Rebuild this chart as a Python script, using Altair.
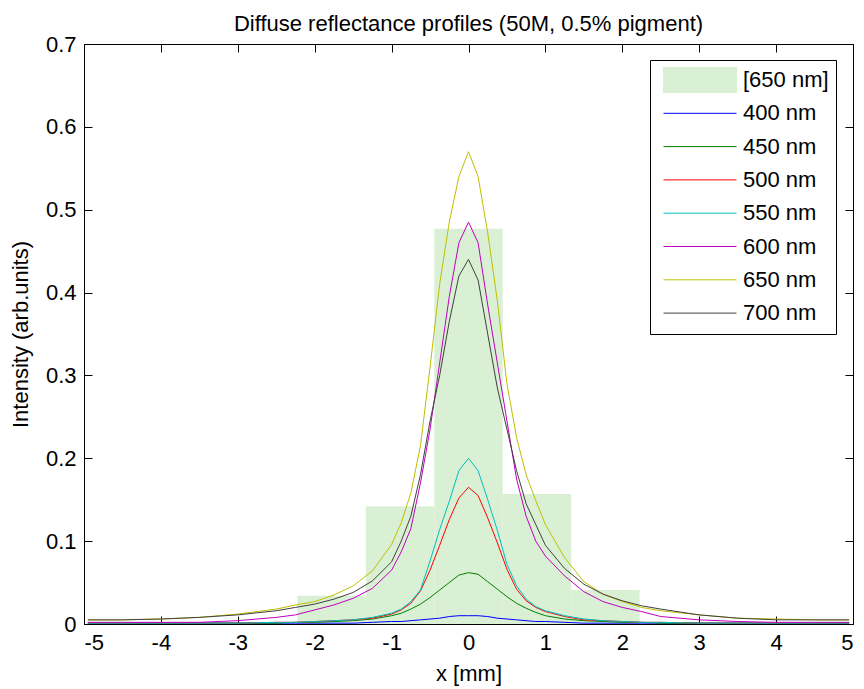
import altair as alt
import pandas as pd

# ---------------- data ----------------
x_mm = [-4.95, -4.5, -4, -3.5, -3, -2.5, -2.25, -2, -1.75, -1.5, -1.25, -1, -0.875, -0.75,
        -0.625, -0.5, -0.375, -0.25, -0.125, 0, 0.125, 0.25, 0.375, 0.5, 0.625, 0.75, 0.875,
        1, 1.25, 1.5, 1.75, 2, 2.25, 2.5, 3, 3.5, 4, 4.5, 4.95]

i400 = [0.001, 0.001, 0.001, 0.001, 0.001, 0.001, 0.001, 0.001, 0.001, 0.001, 0.002, 0.003, 0.003,
        0.004, 0.005, 0.006, 0.007, 0.009, 0.010, 0.010, 0.010, 0.009, 0.007, 0.006, 0.005, 0.004,
        0.003, 0.003, 0.002, 0.001, 0.001, 0.001, 0.001, 0.001, 0.001, 0.001, 0.001, 0.001, 0.001]
i450 = [0.001, 0.001, 0.001, 0.001, 0.001, 0.001, 0.002, 0.002, 0.003, 0.004, 0.006, 0.010, 0.013,
        0.018, 0.024, 0.032, 0.041, 0.050, 0.059, 0.062, 0.060, 0.051, 0.042, 0.033, 0.025, 0.019,
        0.014, 0.010, 0.006, 0.004, 0.003, 0.002, 0.002, 0.001, 0.001, 0.001, 0.001, 0.001, 0.001]
i500 = [0.001, 0.001, 0.001, 0.001, 0.001, 0.002, 0.002, 0.003, 0.004, 0.005, 0.007, 0.012, 0.017,
        0.025, 0.040, 0.065, 0.095, 0.126, 0.152, 0.165, 0.155, 0.128, 0.098, 0.066, 0.042, 0.028,
        0.020, 0.015, 0.009, 0.005, 0.004, 0.003, 0.002, 0.002, 0.001, 0.001, 0.001, 0.001, 0.001]
i550 = [0.001, 0.001, 0.001, 0.001, 0.001, 0.002, 0.002, 0.003, 0.004, 0.005, 0.008, 0.013, 0.018,
        0.027, 0.041, 0.076, 0.114, 0.148, 0.185, 0.200, 0.185, 0.150, 0.113, 0.072, 0.046, 0.030,
        0.021, 0.016, 0.010, 0.006, 0.004, 0.003, 0.002, 0.002, 0.001, 0.001, 0.001, 0.001, 0.001]
i600 = [0.002, 0.002, 0.002, 0.002, 0.004, 0.008, 0.011, 0.017, 0.023, 0.031, 0.043, 0.065, 0.087,
        0.115, 0.170, 0.235, 0.315, 0.395, 0.460, 0.485, 0.460, 0.385, 0.315, 0.245, 0.175, 0.130,
        0.100, 0.082, 0.058, 0.039, 0.027, 0.020, 0.015, 0.009, 0.005, 0.003, 0.002, 0.002, 0.002]
i650 = [0.005, 0.005, 0.006, 0.008, 0.012, 0.018, 0.023, 0.027, 0.035, 0.046, 0.064, 0.096, 0.122,
        0.158, 0.215, 0.310, 0.410, 0.485, 0.540, 0.570, 0.540, 0.472, 0.390, 0.290, 0.225, 0.180,
        0.149, 0.120, 0.080, 0.051, 0.036, 0.027, 0.020, 0.016, 0.011, 0.007, 0.006, 0.005, 0.005]
i700 = [0.005, 0.005, 0.006, 0.008, 0.011, 0.016, 0.020, 0.024, 0.030, 0.038, 0.052, 0.075, 0.100,
        0.130, 0.180, 0.245, 0.300, 0.365, 0.420, 0.440, 0.415, 0.350, 0.285, 0.235, 0.185, 0.145,
        0.120, 0.095, 0.067, 0.048, 0.036, 0.028, 0.022, 0.018, 0.011, 0.007, 0.005, 0.005, 0.005]

series_names = ["400 nm", "450 nm", "500 nm", "550 nm", "600 nm", "650 nm", "700 nm"]
series_values = [i400, i450, i500, i550, i600, i650, i700]
line_colors = ["#0000ff", "#008000", "#ff0000", "#00bfbf", "#bf00bf", "#bfbf00", "#404040"]

hist_name = "[650 nm]"
hist_color = "#daf0d5"
bin_left = [-2.225, -1.335, -0.445, 0.445, 1.335]
bin_right = [-1.335, -0.445, 0.445, 1.335, 2.225]
bin_height = [0.034, 0.142, 0.477, 0.157, 0.041]

x_ticks = [-5, -4, -3, -2, -1, 0, 1, 2, 3, 4, 5]
y_ticks = [0, 0.1, 0.2, 0.3, 0.4, 0.5, 0.6, 0.7]

title_text = "Diffuse reflectance profiles (50M, 0.5% pigment)"
x_title = "x [mm]"
y_title = "Intensity (arb.units)"

# ---------------- tables ----------------
rows = []
for name, vals in zip(series_names, series_values):
    for xv, yv in zip(x_mm, vals):
        rows.append({"x": xv, "v": yv, "series": name})
df_lines = pd.DataFrame(rows)

df_bars = pd.DataFrame({
    "x0": bin_left, "x1": bin_right, "h": bin_height,
    "base": [0.0] * len(bin_height), "series": [hist_name] * len(bin_height),
})

# ---------------- chart ----------------
FONT = "Liberation Sans"
FS = 22
W, H = 769, 580
TICK = 8

xs = alt.Scale(domain=[-5, 5], nice=False, zero=False)
ys = alt.Scale(domain=[0, 0.7], nice=False, zero=False)
color_scale = alt.Scale(domain=[hist_name] + series_names, range=[hist_color] + line_colors)

is_hist = "datum.value === '" + hist_name + "'"
legend = alt.Legend(
    title=None, orient="none", legendX=566, legendY=16, direction="vertical",
    symbolType=alt.ExprRef(expr=is_hist + " ? 'M-1,-0.36L1,-0.36L1,0.36L-1,0.36Z' : 'stroke'"),
    symbolSize=5329, symbolStrokeWidth=1, symbolOpacity=1, symbolOffset=6,
    clipHeight=26, rowPadding=7.3, padding=7,
    labelFont=FONT, labelFontSize=FS, labelColor="black", labelOffset=6,
    strokeColor="black", fillColor="white", cornerRadius=0,
)

label_axis_x = alt.Axis(values=x_ticks, title=x_title, ticks=False, domain=False, grid=False,
                        labelExpr="datum.value + ''", labelPadding=8, labelFontSize=FS,
                        titleFontSize=FS, titlePadding=10, orient="bottom")
label_axis_y = alt.Axis(values=y_ticks, title=y_title, ticks=False, domain=False, grid=False,
                        labelExpr="datum.value + ''", labelPadding=8, labelFontSize=FS,
                        titleFontSize=FS, titlePadding=13, orient="left")


def tick_axis(values, orient):
    return alt.Axis(values=values, orient=orient, labels=False, domain=False, grid=False,
                    ticks=True, tickSize=TICK, offset=-TICK, tickColor="black", tickWidth=1,
                    title=None)


bars = alt.Chart(df_bars).mark_rect(strokeWidth=0).encode(
    x=alt.X("x0:Q", scale=xs, axis=label_axis_x),
    x2="x1:Q",
    y=alt.Y("h:Q", scale=ys, axis=label_axis_y),
    y2="base:Q",
    color=alt.Color("series:N", scale=color_scale, legend=legend),
)

lines = alt.Chart(df_lines).mark_line(strokeWidth=1).encode(
    x=alt.X("x:Q", scale=xs, axis=tick_axis(x_ticks, "bottom")),
    y=alt.Y("v:Q", scale=ys, axis=tick_axis(y_ticks, "left")),
    color=alt.Color("series:N", scale=color_scale, legend=legend),
)

frame = alt.Chart(df_lines).mark_point(opacity=0, size=1).encode(
    x=alt.X("x:Q", scale=xs, axis=tick_axis(x_ticks, "top")),
    y=alt.Y("v:Q", scale=ys, axis=tick_axis(y_ticks, "right")),
)

chart = alt.layer(bars, lines, frame).resolve_axis(
    x="independent", y="independent"
).properties(
    width=W, height=H,
    title=alt.Title(title_text, fontSize=FS, font=FONT, fontWeight="normal", color="black",
                    anchor="middle", offset=-3),
    autosize=alt.AutoSizeParams(type="none"),
    padding={"left": 84, "top": 44, "right": 11, "bottom": 65},
).configure(
    font=FONT, background="white",
).configure_view(
    stroke="black", strokeWidth=1,
).configure_axis(
    labelFont=FONT, titleFont=FONT, labelColor="black", titleColor="black",
    titleFontWeight="normal",
)

chart.save("out.html", embed_options={"renderer": "svg", "actions": False})
